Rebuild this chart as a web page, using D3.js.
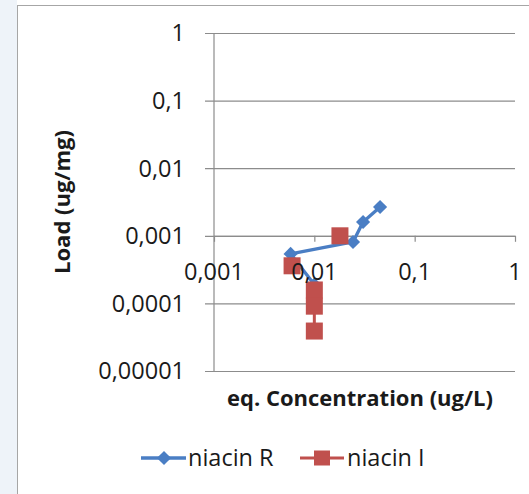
<!DOCTYPE html>
<html>
<head>
<meta charset="utf-8">
<script src="https://cdn.jsdelivr.net/npm/d3@7/dist/d3.min.js"></script>
<style>
  html, body { margin: 0; padding: 0; background: #ffffff; }
  svg { display: block; }
</style>
</head>
<body>
<svg id="chart" width="529" height="494"></svg>
<script>
// Adsorption isotherm data (eq. concentration in ug/L, load in ug/mg)
const seriesNames = ["niacin R", "niacin I"];
const niacinR_conc = [0.010, 0.0058, 0.0243, 0.0306, 0.0452];
const niacinR_load = [0.00019, 0.00054, 0.00081, 0.0016, 0.00267];
// null marks a missing reading, which leaves a gap in the line
const niacinI_conc = [0.018, null, 0.0060, null, 0.010, 0.010, 0.010];
const niacinI_load = [0.0010, null, 0.00036, null, 0.000158, 0.000091, 0.000039];

const xTicks = [0.001, 0.01, 0.1, 1];
const xTickLabels = ["0,001", "0,01", "0,1", "1"];
const yTicks = [1, 0.1, 0.01, 0.001, 0.0001, 0.00001];
const yTickLabels = ["1", "0,1", "0,01", "0,001", "0,0001", "0,00001"];
const xTitle = "eq. Concentration (ug/L)";
const yTitle = "Load (ug/mg)";

const colorR = "#4a7ec4";
const colorI = "#c0504d";
const gridColor = "#8c8c8c";
const textColor = "#1a1a1a";
const font = "'Open Sans', 'Liberation Sans', sans-serif";
const tickFontSize = 23.5;
const titleFontSize = 22;

const svg = d3.select("#chart");

// page frame: pale strip on the left, bordered white panel
svg.append("rect").attr("x", 0).attr("y", 0).attr("width", 17).attr("height", 494).attr("fill", "#eef3f9");
svg.append("rect").attr("x", 17.5).attr("y", 5.5).attr("width", 530).attr("height", 500)
  .attr("fill", "#ffffff").attr("stroke", "#a6a6a6").attr("stroke-width", 1);

const x = d3.scaleLog().domain([0.001, 1]).range([214, 515]);
const y = d3.scaleLog().domain([0.00001, 1]).range([371, 33]);

// horizontal gridlines with the y axis ticks (drawn via the axis generator)
const yAxis = d3.axisLeft(y).tickValues(yTicks).tickSize(-(515 - 214)).tickSizeOuter(0).tickFormat("");
const gy = svg.append("g").attr("transform", "translate(214,0)").call(yAxis);
gy.select(".domain").remove();
gy.selectAll(".tick line").attr("stroke", gridColor).attr("stroke-width", 1.2).attr("x1", -9);

// y axis line
svg.append("line").attr("x1", 214).attr("x2", 214).attr("y1", y(1)).attr("y2", y(0.00001))
  .attr("stroke", gridColor).attr("stroke-width", 1.2);

// x axis crosses at 0.001
const xAxis = d3.axisBottom(x).tickValues(xTicks).tickSize(6).tickSizeOuter(0).tickFormat("");
const gx = svg.append("g").attr("transform", `translate(0,${y(0.001)})`).call(xAxis);
gx.select(".domain").attr("stroke", gridColor).attr("stroke-width", 1.2);
gx.selectAll(".tick line").attr("stroke", gridColor).attr("stroke-width", 1.2);

// series
const rData = niacinR_conc.map((c, i) => ({ c, l: niacinR_load[i] }));
const iData = niacinI_conc.map((c, i) => ({ c, l: niacinI_load[i] }));

const line = d3.line().defined(d => d.c != null && d.l != null).x(d => x(d.c)).y(d => y(d.l));
const diamond = "M-5,-5H5V5H-5Z";

svg.append("path").datum(rData).attr("d", line).attr("fill", "none")
  .attr("stroke", colorR).attr("stroke-width", 3.3).attr("stroke-linejoin", "round");
svg.selectAll(".dR").data(rData).join("path")
  .attr("transform", d => `translate(${x(d.c)},${y(d.l)}) rotate(45)`)
  .attr("d", diamond).attr("fill", colorR);

svg.append("path").datum(iData).attr("d", line).attr("fill", "none")
  .attr("stroke", colorI).attr("stroke-width", 3);
svg.selectAll(".sI").data(iData.filter(d => d.c != null)).join("rect")
  .attr("x", d => x(d.c) - 8.5).attr("y", d => y(d.l) - 8.5)
  .attr("width", 17).attr("height", 17).attr("fill", colorI);

// tick labels
svg.append("g").selectAll("text").data(yTicks).join("text")
  .attr("x", 185).attr("y", d => y(d)).attr("dy", "0.36em")
  .attr("text-anchor", "end").attr("font-family", font).attr("font-size", tickFontSize)
  .attr("fill", textColor).text((d, i) => yTickLabels[i]);

svg.append("g").selectAll("text").data(xTicks).join("text")
  .attr("x", d => x(d)).attr("y", 280)
  .attr("text-anchor", "middle").attr("font-family", font).attr("font-size", tickFontSize)
  .attr("fill", textColor).text((d, i) => xTickLabels[i]);

// axis titles
svg.append("text").attr("x", 360).attr("y", 406).attr("text-anchor", "middle")
  .attr("font-family", font).attr("font-weight", "bold").attr("font-size", titleFontSize)
  .attr("fill", textColor).text(xTitle);

svg.append("text").attr("transform", "translate(70,202) rotate(-90)").attr("text-anchor", "middle")
  .attr("font-family", font).attr("font-weight", "bold").attr("font-size", titleFontSize)
  .attr("fill", textColor).text(yTitle);

// legend
const legendY = 458;
const legend = svg.append("g");
const lgR = legend.append("g").attr("transform", `translate(141,${legendY})`);
lgR.append("line").attr("x1", 0).attr("x2", 45).attr("stroke", colorR).attr("stroke-width", 3.3);
lgR.append("path").attr("transform", "translate(23,0) rotate(45)").attr("d", diamond).attr("fill", colorR);
lgR.append("text").attr("x", 47).attr("dy", "0.36em").attr("font-family", font).attr("font-size", tickFontSize)
  .attr("fill", textColor).text(seriesNames[0]);

const lgI = legend.append("g").attr("transform", `translate(300,${legendY})`);
lgI.append("line").attr("x1", 0).attr("x2", 44).attr("stroke", colorI).attr("stroke-width", 3);
lgI.append("rect").attr("x", 14).attr("y", -7.5).attr("width", 16).attr("height", 15).attr("fill", colorI);
lgI.append("text").attr("x", 47).attr("dy", "0.36em").attr("font-family", font).attr("font-size", tickFontSize)
  .attr("fill", textColor).text(seriesNames[1]);
</script>
</body>
</html>
